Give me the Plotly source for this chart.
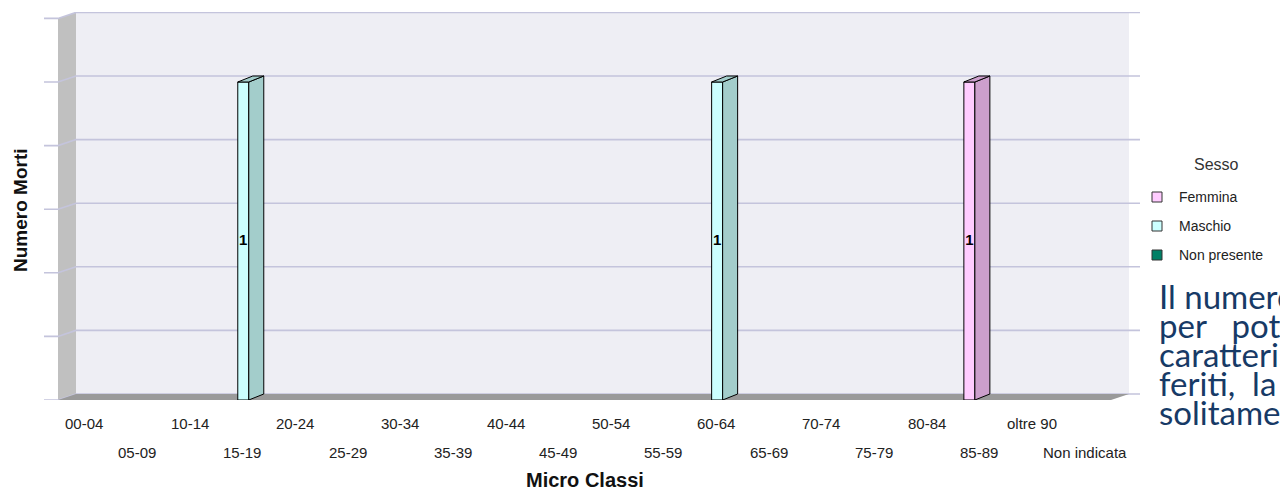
import plotly.graph_objects as go

# ---- data ----
categories = ["00-04", "05-09", "10-14", "15-19", "20-24", "25-29", "30-34",
              "35-39", "40-44", "45-49", "50-54", "55-59", "60-64", "65-69",
              "70-74", "75-79", "80-84", "85-89", "oltre 90", "Non indicata"]
series_names = ["Femmina", "Maschio", "Non presente"]
femmina = [0, 0, 0, 0, 0, 0, 0, 0, 0, 0, 0, 0, 0, 0, 0, 0, 0, 1, 0, 0]
maschio = [0, 0, 0, 1, 0, 0, 0, 0, 0, 0, 0, 0, 1, 0, 0, 0, 0, 0, 0, 0]
non_presente = [0, 0, 0, 0, 0, 0, 0, 0, 0, 0, 0, 0, 0, 0, 0, 0, 0, 0, 0, 0]
grid_values = [0, 0.2, 0.4, 0.6, 0.8, 1.0, 1.2]
legend_title = "Sesso"
x_title = "Micro Classi"
y_title = "Numero Morti"
side_text = ["Il numero", "per\u00a0\u00a0\u00a0potere", "caratteristiche",
             "feriti,\u00a0\u00a0la", "solitamente"]

# ---- styles ----
front_colors = ["#ffccff", "#ccffff", "#008066"]
side_colors = ["#cc9fcc", "#a3cdcb", "#00664f"]
WALL_BACK = "#eeeef4"
WALL_LEFT = "#c0c0c0"
FLOOR = "#9a9a9a"
GRID = "#c4c4dc"
FONT = "Liberation Sans, Arial, sans-serif"

# ---- geometry (pixels) ----
W, H = 1280, 491
PL, PR, PT, PB = 44, 1140, 12, 400      # plot area
FRONT_LEFT = 58                         # front edge of category axis
CAT_W = 52.65                           # pixels per category
PX_PER_UNIT = 318                       # pixels per value unit
WALL_DX, WALL_DY = 18, 6                # depth offset of the walls
BAR_DX, BAR_DY = 15, 6                  # depth offset of bars
BAR_W = 11                              # bar front width


def ux(px):
    return px / CAT_W


def uy(px):
    return px / PX_PER_UNIT


def paper_x(px):
    return (px - PL) / (PR - PL)


def paper_y(py):
    return (PB - py) / (PB - PT)


x_range = [(PL - FRONT_LEFT) / CAT_W - 0.5, (PR - FRONT_LEFT) / CAT_W - 0.5]
y_range = [0, (PB - PT) / PX_PER_UNIT]
n = len(categories)
x_left = -0.5
x_right = n - 0.5

shapes = []
# back wall
shapes.append(dict(type="rect", xref="x", yref="y", layer="below",
                   x0=x_left + ux(WALL_DX), x1=x_right + ux(WALL_DX),
                   y0=uy(WALL_DY), y1=grid_values[-1] + uy(WALL_DY),
                   fillcolor=WALL_BACK, line=dict(width=0)))
# left wall
top = grid_values[-1]
shapes.append(dict(type="path", xref="x", yref="y", layer="below",
                   path=(f"M {x_left},0 L {x_left + ux(WALL_DX)},{uy(WALL_DY)} "
                         f"L {x_left + ux(WALL_DX)},{top + uy(WALL_DY)} L {x_left},{top} Z"),
                   fillcolor=WALL_LEFT, line=dict(width=0)))
# grid lines: tick, wall diagonal, back wall
for v in grid_values:
    shapes.append(dict(type="path", xref="x", yref="y", layer="below",
                       path=(f"M {x_left - ux(FRONT_LEFT - PL)},{v} L {x_left},{v} "
                             f"L {x_left + ux(WALL_DX)},{v + uy(WALL_DY)} "
                             f"L {x_range[1]},{v + uy(WALL_DY)}"),
                       line=dict(color=GRID, width=1.6)))
# floor
shapes.append(dict(type="path", xref="x", yref="y", layer="below",
                   path=(f"M {x_left},0 L {x_left + ux(WALL_DX)},{uy(WALL_DY)} "
                         f"L {x_right + ux(WALL_DX)},{uy(WALL_DY)} L {x_right},0 Z"),
                   fillcolor=FLOOR, line=dict(width=0)))

fig = go.Figure()

series_values = [femmina, maschio, non_presente]
bw = ux(BAR_W)
for s, (name, vals) in enumerate(zip(series_names, series_values)):
    offset = ux((s - 1) * BAR_W - BAR_W / 2 + 1)
    shown = [v if v else None for v in vals]
    fig.add_trace(go.Bar(x=list(range(n)), y=shown, width=bw, offset=offset,
                         marker=dict(color=front_colors[s],
                                     line=dict(color="#000000", width=1)),
                         name=name, showlegend=False, hoverinfo="skip"))
    sx, sy, tx, ty, lx, ly, lt = [], [], [], [], [], [], []
    for i, v in enumerate(vals):
        if not v:
            continue
        xl = i + offset
        xr = xl + bw
        ddx, ddy = ux(BAR_DX), uy(BAR_DY)
        sx += [xr, xr + ddx, xr + ddx, xr, xr, None]
        sy += [0, ddy, v + ddy, v, 0, None]
        tx += [xl, xl + ddx, xr + ddx, xr, xl, None]
        ty += [v, v + ddy, v + ddy, v, v, None]
        lx.append(xl + bw / 2)
        ly.append(v / 2)
        lt.append(str(v))
    if sx:
        for px_, py_ in ((sx, sy), (tx, ty)):
            fig.add_trace(go.Scatter(x=px_, y=py_, mode="lines", fill="toself",
                                     fillcolor=side_colors[s],
                                     line=dict(color="#000000", width=1),
                                     showlegend=False, hoverinfo="skip"))
        fig.add_trace(go.Scatter(x=lx, y=ly, mode="text", text=lt,
                                 textfont=dict(family=FONT, size=15, color="#000000",
                                               weight="bold"),
                                 showlegend=False, hoverinfo="skip"))

annotations = []
# category labels on two staggered rows
for i, lab in enumerate(categories):
    row_y = 423 if i % 2 == 0 else 452
    annotations.append(dict(x=i, y=paper_y(row_y), xref="x", yref="paper",
                            text=lab, showarrow=False, xanchor="center",
                            yanchor="middle",
                            font=dict(family=FONT, size=15, color="#222222")))
annotations.append(dict(x=paper_x(585), y=paper_y(480), xref="paper", yref="paper",
                        text=f"<b>{x_title}</b>", showarrow=False,
                        xanchor="center", yanchor="middle",
                        font=dict(family=FONT, size=20, color="#111111")))
annotations.append(dict(x=paper_x(20), y=paper_y(210), xref="paper", yref="paper",
                        text=f"<b>{y_title}</b>", showarrow=False, textangle=-90,
                        xanchor="center", yanchor="middle",
                        font=dict(family=FONT, size=19, color="#111111")))

# legend
annotations.append(dict(x=paper_x(1216), y=paper_y(164), xref="paper", yref="paper",
                        text=legend_title, showarrow=False, xanchor="center",
                        yanchor="middle",
                        font=dict(family=FONT, size=16, color="#333333")))
for s, name in enumerate(series_names):
    cy = 197 + 29 * s
    shapes.append(dict(type="rect", xref="paper", yref="paper",
                       x0=paper_x(1152), x1=paper_x(1162),
                       y0=paper_y(cy + 5), y1=paper_y(cy - 5),
                       fillcolor=front_colors[s], line=dict(color="#333333", width=1)))
    annotations.append(dict(x=paper_x(1177), y=paper_y(cy), xref="paper", yref="paper",
                            text=name, showarrow=False, xanchor="left",
                            yanchor="middle",
                            font=dict(family=FONT, size=14, color="#222222")))

# side text block
for k, line in enumerate(side_text):
    annotations.append(dict(x=paper_x(1157), y=paper_y(296 + 29 * k), xref="paper",
                            yref="paper", text=line, showarrow=False,
                            xanchor="left", yanchor="middle",
                            font=dict(family="Lato, sans-serif", size=33,
                                      color="#173a66")))

fig.update_layout(
    width=W, height=H,
    margin=dict(l=PL, r=W - PR, t=PT, b=H - PB, pad=0),
    plot_bgcolor="#ffffff", paper_bgcolor="#ffffff",
    barmode="overlay", showlegend=False,
    shapes=shapes, annotations=annotations,
    xaxis=dict(range=x_range, showgrid=False, zeroline=False, showticklabels=False,
               showline=False, fixedrange=True),
    yaxis=dict(range=y_range, showgrid=False, zeroline=False, showticklabels=False,
               showline=False, fixedrange=True),
)

fig.write_html("out.html")
